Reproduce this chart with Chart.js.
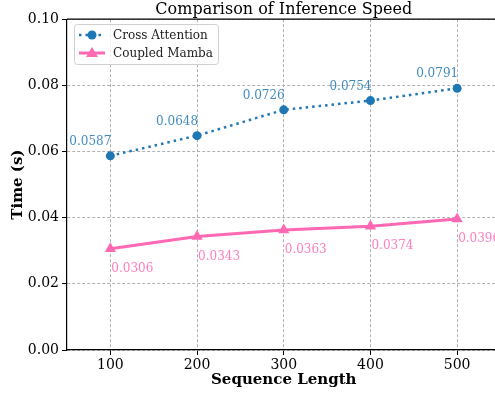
<!DOCTYPE html>
<html>
<head>
<meta charset="utf-8">
<script src="https://cdn.jsdelivr.net/npm/chart.js@4/dist/chart.umd.min.js"></script>
<style>
  html, body { margin:0; padding:0; background:#fff; overflow:hidden; }
  #wrap { position:absolute; left:0; top:0; width:507px; height:393px; }
  #c { width:507px !important; height:393px !important; }
</style>
</head>
<body>
<div id="wrap"><canvas id="c" width="507" height="393"></canvas></div>
<script>
/* ── data ── */
const SEQ_LEN      = [100, 200, 300, 400, 500];
const CROSS_ATTN   = [0.0587, 0.0648, 0.0726, 0.0754, 0.0791];
const COUPLED_MAMBA= [0.0306, 0.0343, 0.0363, 0.0374, 0.0396];
const X_TICKS      = [100, 200, 300, 400, 500];
const Y_TICKS      = [0, 0.02, 0.04, 0.06, 0.08, 0.10];

const SERIF = "'DejaVu Serif', serif";
const BLUE  = "#1f77b4";
const PINK  = "#ff69b4";

const pts = ys => SEQ_LEN.map((x, i) => ({ x, y: ys[i] }));

// value labels next to each point
const valueLabels = {
  id: "valueLabels",
  afterDatasetsDraw(chart) {
    const ctx = chart.ctx;
    ctx.save();
    ctx.font = "12px " + SERIF;
    chart.data.datasets.forEach((ds, di) => {
      const meta = chart.getDatasetMeta(di);
      meta.data.forEach((p, i) => {
        const v = ds.data[i].y.toFixed(4);
        if (di === 0) {
          ctx.fillStyle = "rgba(31,119,180,0.85)";
          ctx.textAlign = "right"; ctx.textBaseline = "alphabetic";
          ctx.fillText(v, p.x + 1, p.y - 11);
        } else {
          ctx.fillStyle = "rgba(255,105,180,0.85)";
          ctx.textAlign = "left"; ctx.textBaseline = "top";
          ctx.fillText(v, p.x + 1, p.y + 14);
        }
      });
    });
    ctx.restore();
  }
};

// top spine + legend box
const frame = {
  id: "frame",
  afterDraw(chart) {
    const { ctx, chartArea: a } = chart;
    ctx.save();
    ctx.strokeStyle = "#000"; ctx.lineWidth = 1.2;
    ctx.beginPath(); ctx.moveTo(a.left, a.top); ctx.lineTo(a.right, a.top); ctx.stroke();

    // legend
    const bx = 74.5, by = 24.5, bw = 144, bh = 40, r = 3;
    ctx.beginPath();
    ctx.moveTo(bx + r, by); ctx.lineTo(bx + bw - r, by); ctx.quadraticCurveTo(bx + bw, by, bx + bw, by + r);
    ctx.lineTo(bx + bw, by + bh - r); ctx.quadraticCurveTo(bx + bw, by + bh, bx + bw - r, by + bh);
    ctx.lineTo(bx + r, by + bh); ctx.quadraticCurveTo(bx, by + bh, bx, by + bh - r);
    ctx.lineTo(bx, by + r); ctx.quadraticCurveTo(bx, by, bx + r, by);
    ctx.fillStyle = "rgba(255,255,255,0.8)"; ctx.fill();
    ctx.strokeStyle = "#d0d0d0"; ctx.lineWidth = 1; ctx.stroke();

    const rows = [35, 53];
    chart.data.datasets.forEach((ds, i) => {
      const y = rows[i];
      ctx.strokeStyle = ds.borderColor; ctx.lineWidth = ds.borderWidth;
      ctx.setLineDash(ds.borderDash || []);
      ctx.beginPath(); ctx.moveTo(79, y); ctx.lineTo(105, y); ctx.stroke();
      ctx.setLineDash([]);
      ctx.fillStyle = ds.pointBackgroundColor;
      ctx.beginPath();
      if (ds.pointStyle === "triangle") {
        ctx.moveTo(92, y - 6); ctx.lineTo(98, y + 4); ctx.lineTo(86, y + 4); ctx.closePath();
      } else {
        ctx.arc(92, y, 4.5, 0, Math.PI * 2);
      }
      ctx.fill();
      ctx.fillStyle = "#222"; ctx.font = "12px " + SERIF;
      ctx.textAlign = "left"; ctx.textBaseline = "middle";
      ctx.fillText(ds.label, 113, y + 1);
    });
    ctx.restore();
  }
};

const GRID = { color: "#b0b0b0", tickLength: 5, tickColor: "#000", tickBorderDash: [], tickWidth: 1 };
const BORDER = { color: "#000", width: 1.2, dash: [3, 2] };

new Chart(document.getElementById("c"), {
  type: "line",
  data: {
    datasets: [
      {
        label: "Cross Attention",
        data: pts(CROSS_ATTN),
        borderColor: BLUE, backgroundColor: BLUE,
        borderWidth: 2.5, borderDash: [2.5, 4], borderCapStyle: "butt",
        pointRadius: 4.5, pointBackgroundColor: BLUE, pointBorderWidth: 0,
        pointStyle: "circle", tension: 0,
      },
      {
        label: "Coupled Mamba",
        data: pts(COUPLED_MAMBA),
        borderColor: PINK, backgroundColor: PINK,
        borderWidth: 3,
        pointRadius: 6.5, pointBackgroundColor: PINK, pointBorderWidth: 0,
        pointStyle: "triangle", tension: 0,
      },
    ],
  },
  options: {
    responsive: false,
    animation: false,
    layout: { padding: 0 },
    plugins: {
      legend: { display: false },
      tooltip: { enabled: false },
      title: {
        display: true, text: "Comparison of Inference Speed", fullSize: false,
        color: "#000", font: { family: SERIF, size: 16, weight: "normal", lineHeight: 1.2 },
        padding: { top: 0, bottom: 0 },
      },
    },
    scales: {
      x: {
        type: "linear", min: 50, max: 550,
        afterBuildTicks: s => { s.ticks = X_TICKS.map(v => ({ value: v })); },
        afterFit: s => { s.height = 43; },
        grid: GRID,
        border: BORDER,
        ticks: { color: "#000", padding: 2, font: { family: SERIF, size: 14 }, callback: v => String(v) },
        title: { display: true, text: "Sequence Length", color: "#000", font: { family: SERIF, size: 15, weight: "bold" }, padding: { top: 4, bottom: 4 } },
      },
      y: {
        min: 0, max: 0.1,
        afterBuildTicks: s => { s.ticks = Y_TICKS.map(v => ({ value: v })); },
        afterFit: s => { s.width = 67; },
        grid: GRID,
        border: BORDER,
        ticks: { color: "#000", padding: 3, font: { family: SERIF, size: 14 }, callback: v => Number(v).toFixed(2) },
        title: { display: true, text: "Time (s)", color: "#000", font: { family: SERIF, size: 15, weight: "bold" }, padding: { top: 9, bottom: 0 } },
      },
    },
  },
  plugins: [valueLabels, frame],
});
</script>
</body>
</html>
